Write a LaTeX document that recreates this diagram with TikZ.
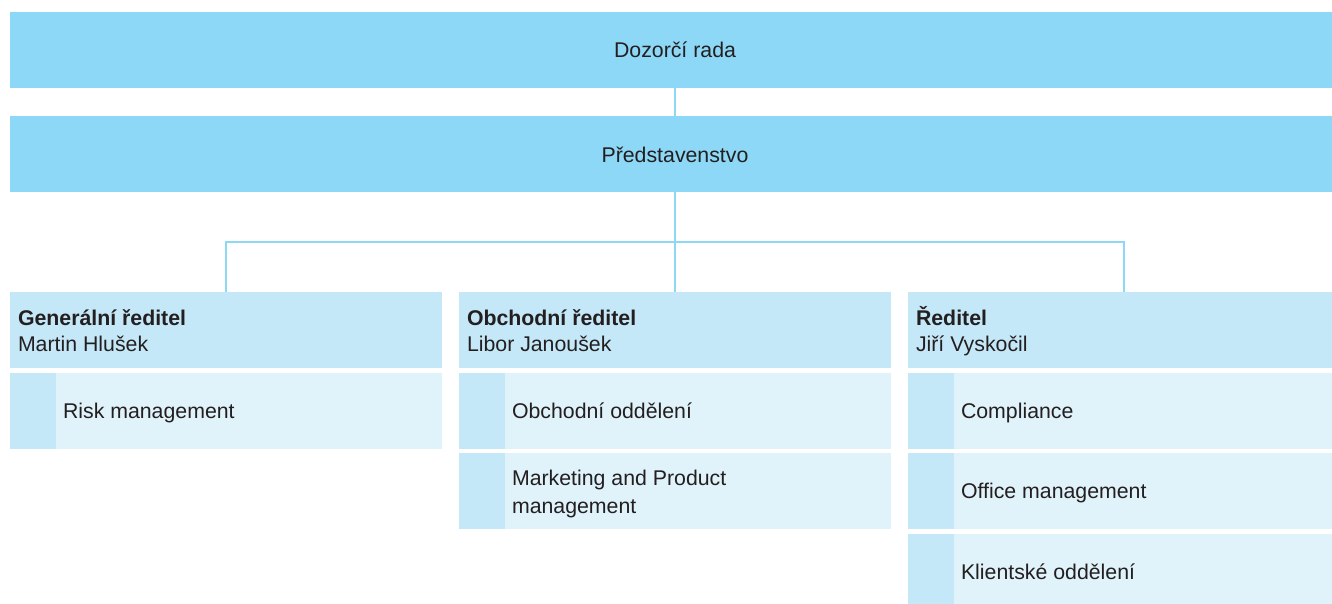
\documentclass[tikz,border=0pt]{standalone}
\usepackage{fontspec}
\setmainfont{Liberation Sans}
\definecolor{topblue}{HTML}{8DD8F6}
\definecolor{headblue}{HTML}{C5E8F8}
\definecolor{subblue}{HTML}{E0F2FA}
\definecolor{txt}{HTML}{231F20}
\begin{document}
\begin{tikzpicture}[x=1pt,y=-1pt,
  every node/.style={inner sep=0pt, outer sep=0pt},
  topbox/.style={fill=topblue, minimum width=1330pt, minimum height=76pt, anchor=north west},
  headbox/.style={fill=headblue, minimum width=432pt, minimum height=76pt, anchor=north west},
  subbox/.style={fill=subblue, minimum width=432pt, minimum height=76pt, anchor=north west},
  stripe/.style={fill=headblue, minimum width=46pt, minimum height=76pt, anchor=north west},
  lbl/.style={text=txt, font=\fontsize{21.3}{25.5}\selectfont, anchor=base west},
  clbl/.style={text=txt, font=\fontsize{21.3}{25.5}\selectfont},
  conn/.style={draw=topblue, line width=2pt}]
\useasboundingbox (0,0) rectangle (1332,604);
\clip (0,0) rectangle (1332,604);
% top level
\node[topbox] (dozor) at (10,12) {};
\node[clbl] (dozortxt) at (675,50) {Dozorčí rada};
\node[topbox] (pred) at (10,116) {};
\node[clbl] (predtxt) at (675,155) {Představenstvo};
% column headers
\node[headbox] (h1) at (10,292) {};
\node[headbox] (h2) at (459,292) {};
\node[headbox] (h3) at (908,292) {};
\node[lbl] (h1a) at (18,325) {\bfseries Generální ředitel};
\node[lbl] (h1b) at (18,351) {Martin Hlušek};
\node[lbl] (h2a) at (467,325) {\bfseries Obchodní ředitel};
\node[lbl] (h2b) at (467,351) {Libor Janoušek};
\node[lbl] (h3a) at (916,325) {\bfseries Ředitel};
\node[lbl] (h3b) at (916,351) {Jiří Vyskočil};
% sub boxes
\node[subbox] (s11) at (10,373) {};
\node[stripe] (t11) at (10,373) {};
\node[lbl] at (63,418) {Risk management};
\node[subbox] (s21) at (459,373) {};
\node[stripe] (t21) at (459,373) {};
\node[lbl] at (512,418) {Obchodní oddělení};
\node[subbox] (s22) at (459,453) {};
\node[stripe] (t22) at (459,453) {};
\node[lbl] at (512,485) {Marketing and Product};
\node[lbl] at (512,513) {management};
\node[subbox] (s31) at (908,373) {};
\node[stripe] (t31) at (908,373) {};
\node[lbl] at (961,418) {Compliance};
\node[subbox] (s32) at (908,453) {};
\node[stripe] (t32) at (908,453) {};
\node[lbl] at (961,498) {Office management};
\node[subbox] (s33) at (908,534) {};
\node[stripe] (t33) at (908,534) {};
\node[lbl] at (961,579) {Klientské oddělení};
% connectors
\coordinate (hub) at (675,241.5);
\draw[conn] (dozor.south) -- (pred.north);
\draw[conn] (pred.south) -- (hub);
\draw[conn] (hub) -| (h1.north);
\draw[conn] (hub) -| (h3.north);
\draw[conn] (hub) -- (h2.north);
\end{tikzpicture}
\end{document}
